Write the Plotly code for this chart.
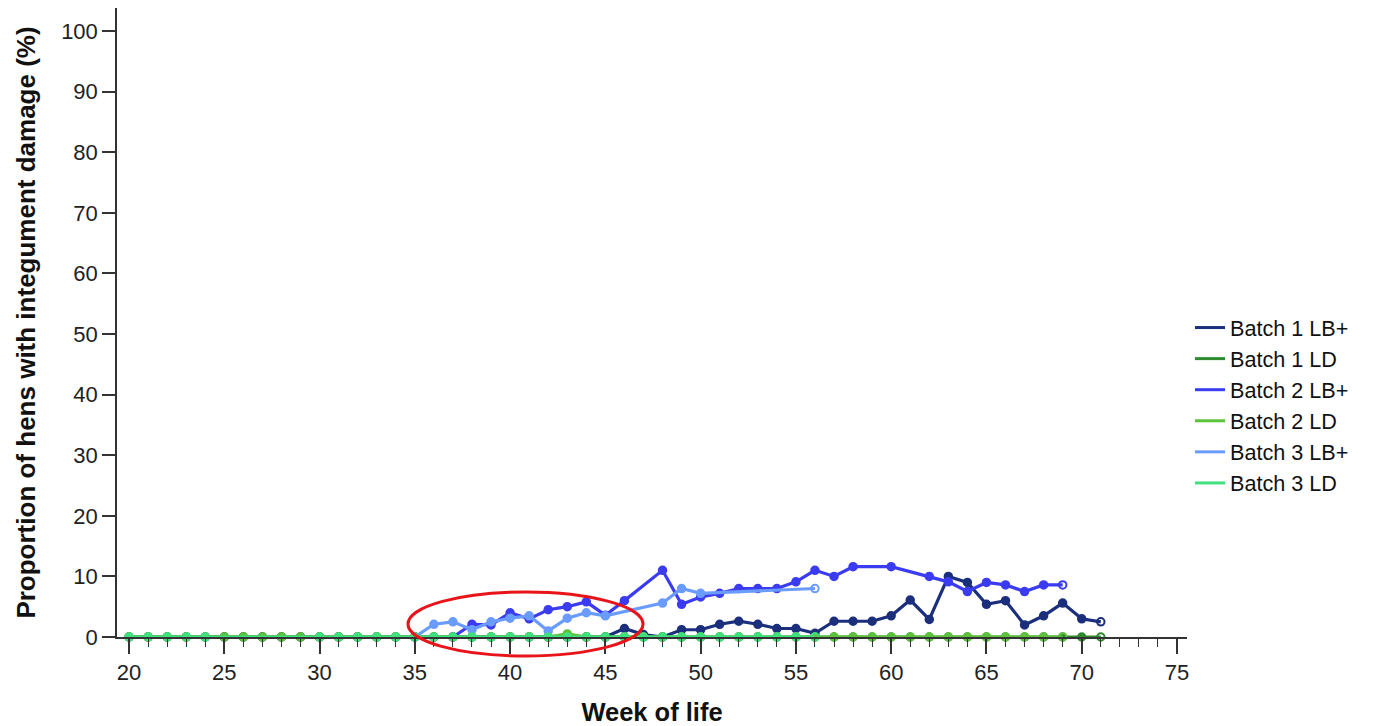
import plotly.graph_objects as go

# ---------------- data ----------------
b1_lb_weeks = list(range(20, 72))
b1_lb_vals = [0] * 26 + [1.4, 0.4, 0, 1.2, 1.2, 2.1, 2.6, 2.1, 1.4, 1.4, 0.6, 2.6, 2.6, 2.6, 3.5, 6.1,
                         2.9, 10.0, 9.0, 5.4, 6.0, 2.0, 3.5, 5.6, 3.0, 2.5]

b1_ld_weeks = list(range(20, 72))
b1_ld_vals = [0] * len(b1_ld_weeks)

b2_lb_weeks = [37, 38, 39, 40, 41, 42, 43, 44, 45, 46, 48, 49, 50, 51, 52, 53, 54, 55, 56, 57, 58, 60,
               62, 63, 64, 65, 66, 67, 68, 69]
b2_lb_vals = [0, 2.1, 2.0, 4.0, 3.0, 4.5, 5.0, 5.8, 3.6, 6.0, 11.0, 5.4, 6.6, 7.2, 8.0, 8.0, 8.0, 9.1,
              11.0, 10.0, 11.6, 11.6, 10.0, 9.1, 7.5, 9.0, 8.6, 7.5, 8.6, 8.6]

b2_ld_weeks = list(range(20, 70))
b2_ld_vals = [0] * 23 + [0.5] + [0] * 26

b3_lb_weeks = [35, 36, 37, 38, 39, 40, 41, 42, 43, 44, 45, 48, 49, 50, 56]
b3_lb_vals = [0, 2.1, 2.5, 1.2, 2.5, 3.1, 3.5, 1.0, 3.1, 4.0, 3.5, 5.6, 8.0, 7.2, 8.0]

b3_ld_weeks = [20, 21, 22, 23, 24] + list(range(30, 57))
b3_ld_vals = [0] * len(b3_ld_weeks)

series = [
    ("Batch 1 LB+", b1_lb_weeks, b1_lb_vals, "#1b2f7c"),
    ("Batch 1 LD", b1_ld_weeks, b1_ld_vals, "#2e8a2e"),
    ("Batch 2 LB+", b2_lb_weeks, b2_lb_vals, "#3b3bf2"),
    ("Batch 2 LD", b2_ld_weeks, b2_ld_vals, "#5cc23c"),
    ("Batch 3 LB+", b3_lb_weeks, b3_lb_vals, "#6a9cff"),
    ("Batch 3 LD", b3_ld_weeks, b3_ld_vals, "#3fe07e"),
]

FONT = "Liberation Sans, Arial, sans-serif"

fig = go.Figure()
for name, xs, ys, col in series:
    symbols = ["circle"] * (len(xs) - 1) + ["circle-open"]
    fig.add_trace(go.Scatter(
        x=xs, y=ys, name=name, mode="lines+markers",
        line=dict(color=col, width=3.2),
        marker=dict(color=col, size=7.5, symbol=symbols, line=dict(color=col, width=2)),
        showlegend=False, cliponaxis=False,
    ))
    # legend entry: line only
    fig.add_trace(go.Scatter(
        x=[None], y=[None], name=name, mode="lines",
        line=dict(color=col, width=3), showlegend=True,
    ))

# page has an 8px body margin: figure origin sits at page (8, 8)
OFF = 8
W, H = 1378 - OFF, 726 - OFF
PLOT_L, PLOT_R, PLOT_T, PLOT_B = 117, 1187, 8, 637   # page pixels of the plot area
L = PLOT_L - OFF
R = W - (PLOT_R - OFF)
T = PLOT_T - OFF
B = H - (PLOT_B - OFF)
pw, ph = PLOT_R - PLOT_L, PLOT_B - PLOT_T
PX_PER_PCT = 6.06

def px_x(p):
    return (p - PLOT_L) / pw

def px_y(p):
    return (PLOT_B - p) / ph

fig.add_shape(type="circle", xref="paper", yref="paper",
              x0=px_x(408), x1=px_x(643), y0=px_y(656), y1=px_y(592),
              line=dict(color="#e8141a", width=3), fillcolor="rgba(0,0,0,0)")

fig.update_layout(
    width=W, height=H,
    margin=dict(l=L, r=R, t=T, b=B, pad=0, autoexpand=False),
    plot_bgcolor="white", paper_bgcolor="white",
    font=dict(family=FONT, size=21, color="#222222"),
    legend=dict(x=px_x(1190), y=px_y(307), xanchor="left", yanchor="top",
                font=dict(family=FONT, size=21.6, color="#111111"),
                tracegroupgap=0, itemwidth=30, bgcolor="rgba(0,0,0,0)"),
    xaxis=dict(
        range=[20 - 12 / 19.05, 75 + 10 / 19.05],
        tickmode="array", tickvals=list(range(20, 80, 5)),
        ticks="outside", ticklen=15, tickwidth=1.5, tickcolor="#333333",
        minor=dict(dtick=1, tick0=20, ticks="outside", ticklen=8, tickwidth=1.3, tickcolor="#333333"),
        showline=True, linecolor="#333333", linewidth=1.5,
        showgrid=False, zeroline=False, automargin=False,
        tickfont=dict(family=FONT, size=22, color="#222222"),
        title=dict(text="<b>Week of life</b>", font=dict(family=FONT, size=25.5, color="#111111"), standoff=23),
    ),
    yaxis=dict(
        range=[0, ph / PX_PER_PCT],
        tickmode="array", tickvals=list(range(0, 101, 10)),
        ticks="outside", ticklen=13, tickwidth=1.5, tickcolor="#333333",
        showline=True, linecolor="#333333", linewidth=1.5,
        showgrid=False, zeroline=False, automargin=False,
        tickfont=dict(family=FONT, size=22, color="#222222"),
        title=dict(text="<b>Proportion of hens with integument damage (%)</b>",
                   font=dict(family=FONT, size=26, color="#111111"), standoff=18),
    ),
)

fig.write_html("out.html")
